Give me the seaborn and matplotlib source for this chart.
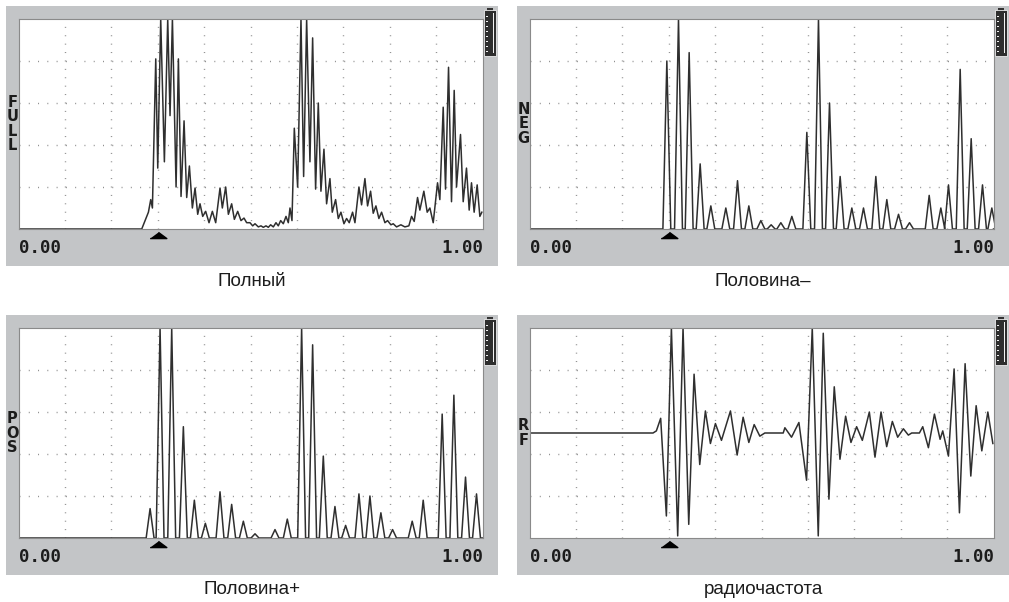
import numpy as np
import matplotlib
matplotlib.use("Agg")
import matplotlib.pyplot as plt
import matplotlib.patches as mpatches
import seaborn as sns

# A-scan traces (x: 0..1 of screen width, amplitude in % of height)
full_x = [0.0, 0.2656, 0.2800, 0.2850, 0.2886, 0.2958, 0.3001, 0.3065, 0.3144, 0.3216,
          0.3266, 0.3317, 0.3396, 0.3446, 0.3503, 0.3568, 0.3625, 0.3683, 0.3747, 0.3805,
          0.3862, 0.3912, 0.3970, 0.4034, 0.4106, 0.4178, 0.4250, 0.4343, 0.4393, 0.4465,
          0.4523, 0.4594, 0.4652, 0.4724, 0.4795, 0.4860, 0.4917, 0.4989, 0.5047, 0.5097,
          0.5169, 0.5226, 0.5276, 0.5334, 0.5384, 0.5434, 0.5492, 0.5549, 0.5599, 0.5650,
          0.5707, 0.5765, 0.5815, 0.5851, 0.5894, 0.5944, 0.6016, 0.6088, 0.6145, 0.6210,
          0.6281, 0.6339, 0.6403, 0.6461, 0.6518, 0.6583, 0.6640, 0.6712, 0.6762, 0.6834,
          0.6892, 0.6949, 0.7014, 0.7071, 0.7128, 0.7200, 0.7251, 0.7337, 0.7394, 0.7466,
          0.7523, 0.7588, 0.7645, 0.7703, 0.7767, 0.7825, 0.7897, 0.7954, 0.8026, 0.8076,
          0.8148, 0.8241, 0.8327, 0.8413, 0.8471, 0.8528, 0.8600, 0.8650, 0.8736, 0.8808,
          0.8866, 0.8938, 0.9031, 0.9081, 0.9153, 0.9203, 0.9268, 0.9332, 0.9390, 0.9440,
          0.9526, 0.9584, 0.9655, 0.9713, 0.9763, 0.9820, 0.9885, 0.9943, 0.9986]
full_y = [0, 0, 8, 14, 10, 81, 29, 100, 32, 100,
          54, 100, 20, 81, 15.5, 51.5, 15, 30, 10, 19.5,
          7, 12, 6, 8.4, 3, 8.4, 3, 19.5, 10, 20,
          7, 12, 4.6, 8.4, 4, 5.2, 3, 3, 1.5, 2.5,
          1, 1.5, 0.8, 1.5, 0.8, 2, 1, 3, 1.5, 4,
          2.5, 6, 3, 10, 4, 48, 20, 100, 25, 100,
          32, 91, 19, 60, 18, 38, 12, 24, 8, 14,
          5, 8, 2.5, 5, 3, 8, 3, 20, 11.5, 24,
          11, 18, 7.5, 11, 5, 8, 3, 4, 2, 2.5,
          1, 2, 1, 1.5, 6, 3.6, 15, 9, 18, 8,
          10, 3, 22, 14, 58, 19, 77, 13, 66, 20,
          45, 13, 29, 9, 22, 8, 21, 6, 8]

neg_x = [0.2960, 0.3211, 0.3441, 0.3678, 0.3908, 0.4231, 0.4483, 0.4727, 0.4986, 0.5208,
         0.5417, 0.5654, 0.5977, 0.6228, 0.6466, 0.6695, 0.6947, 0.7198, 0.7464, 0.7701,
         0.7953, 0.8190, 0.8614, 0.8865, 0.9030, 0.9282, 0.9519, 0.9763, 0.9964]
neg_h = [80, 100, 84, 31, 11, 10, 23, 11, 4, 2,
         3, 6, 46, 100, 60, 25, 10, 10, 25, 14,
         7, 3, 16, 10, 21, 76, 43, 21, 10]

pos_x = [0.2836, 0.3051, 0.3302, 0.3553, 0.3790, 0.4027, 0.4343, 0.4594, 0.4846, 0.5097,
         0.5528, 0.5793, 0.6102, 0.6339, 0.6569, 0.6820, 0.7050, 0.7337, 0.7574, 0.7810,
         0.8062, 0.8485, 0.8722, 0.9131, 0.9383, 0.9634, 0.9871]
pos_h = [14, 100, 100, 53, 18, 7, 22, 16, 8, 2,
         4, 9, 100, 92, 39, 15, 6, 21, 20, 12,
         4, 8, 18, 59, 68, 29, 21]

rf_x = [0.0, 0.2662, 0.2734, 0.2827, 0.2950, 0.3058, 0.3194, 0.3309, 0.3432, 0.3547,
        0.3669, 0.3791, 0.3899, 0.4007, 0.4137, 0.4331, 0.4475, 0.4604, 0.4727, 0.4842,
        0.4964, 0.5072, 0.5468, 0.5504, 0.5647, 0.5806, 0.5971, 0.6094, 0.6223, 0.6331,
        0.6453, 0.6568, 0.6691, 0.6813, 0.6928, 0.7050, 0.7173, 0.7324, 0.7446, 0.7576,
        0.7698, 0.7820, 0.7935, 0.8058, 0.8165, 0.8237, 0.8403, 0.8475, 0.8597, 0.8727,
        0.8849, 0.8906, 0.9029, 0.9151, 0.9266, 0.9388, 0.9511, 0.9626, 0.9748, 0.9878,
        0.9986]
rf_y = [0, 0, 2, 14, -79, 100, -98, 100, -87, 56,
        -30, 21, -10, 9, -7, 21, -21, 15, -9, 8,
        -3, 0, 0, 5, -4, 10, -45, 100, -98, 95,
        -63, 44, -25, 16, -9, 6, -7, 20, -23, 20,
        -13, 11, -4, 4, -2, 0, 0, 6, -14, 18,
        -6, 2, -22, 61, -76, 66, -41, 26, -17, 20,
        -10]

modes = ["FULL", "NEG", "POS", "RF"]
captions = ["Полный", "Половина–", "Половина+", "радиочастота"]
range_labels = ["0.00", "1.00"]
trigger_x = 0.3


def lobes(px, ph, w=0.0085):
    # half-wave rectified trace: each echo lobe rises from and returns to the baseline
    xs, ys = [0.0], [0.0]
    for x, h in zip(px, ph):
        xs += [x - w, x, x + w]
        ys += [0, h, 0]
    xs.append(1.0)
    ys.append(0)
    return xs, ys


neg_tx, neg_ty = lobes(neg_x, neg_h)
pos_tx, pos_ty = lobes(pos_x, pos_h)
traces = [(full_x, full_y), (neg_tx, neg_ty), (pos_tx, pos_ty), (rf_x, rf_y)]
ylims = [(0, 100), (0, 100), (0, 100), (-100, 100)]

W, H = 1009, 602
GRAY = "#c3c5c7"
INK = "#2f2f2f"

fig = plt.figure(figsize=(W / 100, H / 100), dpi=100)
bg = fig.add_axes([0, 0, 1, 1])
bg.set_xlim(0, W)
bg.set_ylim(H, 0)
bg.axis("off")

boxes = [(6, 6), (517, 6), (6, 315), (517, 315)]
box_w, box_h = 492, 260

for i, (gx, gy) in enumerate(boxes):
    bg.add_patch(mpatches.Rectangle((gx, gy), box_w, box_h, color=GRAY, lw=0))
    l, t = gx + 12.5, gy + 13
    r, b = gx + box_w - 15.5, gy + 223
    ax = fig.add_axes([l / W, 1 - b / H, (r - l) / W, (b - t) / H])
    ax.set_facecolor("white")

    lo, hi = ylims[i]
    ax.set_xlim(0, 1)
    ax.set_ylim(lo, hi)
    ax.set_xticks(np.arange(1, 10) / 10)
    ax.set_yticks(np.linspace(lo, hi, 6)[1:-1])
    ax.tick_params(length=0, labelbottom=False, labelleft=False)
    ax.xaxis.grid(True, ls=(0, (0.7, 5.35)), lw=1, color="#8c8c8c")
    ax.yaxis.grid(True, ls=(0, (0.7, 5.98)), lw=1, color="#8c8c8c")
    ax.set_axisbelow(True)
    for s in ax.spines.values():
        s.set_color("#8a8a8a")
        s.set_linewidth(0.8)

    tx, ty = traces[i]
    sns.lineplot(x=tx, y=ty, ax=ax, color=INK, linewidth=1.1,
                 estimator=None, sort=False)
    ax.set_xlabel("")
    ax.set_ylabel("")

    # trigger marker under the trace
    ax.plot([trigger_x], [-0.029], transform=ax.get_xaxis_transform(),
            marker=[(-1, -0.37), (1, -0.37), (0, 0.37)], ms=12, color="black",
            clip_on=False, ls="none")

    bg.text(gx + 13, gy + 242, range_labels[0], ha="left", va="center",
            family="DejaVu Sans Mono", weight="bold", size=12.5, color="#1c1c1c")
    bg.text(r + 1, gy + 242, range_labels[1], ha="right", va="center",
            family="DejaVu Sans Mono", weight="bold", size=12.5, color="#1c1c1c")
    bg.text(gx + 6.5, (t + b) / 2, "\n".join(modes[i]), ha="center", va="center",
            family="DejaVu Sans", weight="bold", size=10.5, linespacing=0.92,
            color="#1c1c1c")
    bg.text(gx + box_w / 2, gy + box_h + 15, captions[i], ha="center", va="center",
            family=["Liberation Sans Narrow", "Liberation Sans", "DejaVu Sans"],
            size=13.5, color="#1c1c1c")

    # battery / gain indicator in the top-right corner
    bx, by = gx + 477.5, gy + 3.5
    bg.add_patch(mpatches.Rectangle((bx + 3, by - 1.5), 6, 2.5, color="#333333", lw=0))
    bg.add_patch(mpatches.Rectangle((bx, by), 12.5, 46, facecolor="#2e2e2e",
                                    edgecolor="#eeeeee", lw=0.6))
    bg.add_patch(mpatches.Rectangle((bx + 9, by + 3), 1.4, 40, color="#f2f2f2", lw=0))
    for k in range(8):
        bg.add_patch(mpatches.Rectangle((bx + 2, by + 6 + k * 5), 2.2, 1.1,
                                        color="#f2f2f2", lw=0))

fig.savefig("out.png", dpi=100)
